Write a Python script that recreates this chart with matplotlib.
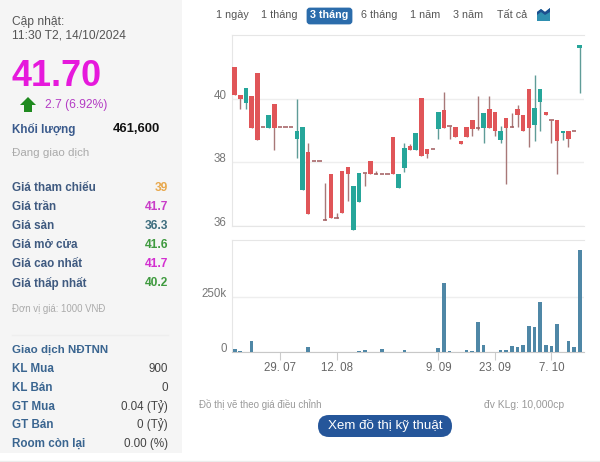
import matplotlib
matplotlib.use("Agg")
import matplotlib.pyplot as plt
from matplotlib.patches import FancyBboxPatch, Polygon, Rectangle

plt.rcParams['font.family'] = ['Liberation Sans', 'DejaVu Sans']

# one entry per trading day
opens = [41.02, 40.14, 39.87, 40.09, 40.83, 39.12, 39.10, 39.83, 39.12, 39.12, 39.12,
         38.74, 37.12, 38.33, 38.04, 38.04, 36.17, 37.64, 36.24, 37.73, 37.84,
         35.86, 36.76, 37.65, 38.04, 37.64, 37.64, 37.64, 38.80, 37.18, 37.83,
         38.53, 38.40, 40.03, 38.41, 38.41, 39.05, 39.65, 39.14, 39.12, 38.66,
         39.12, 39.35, 39.10, 39.10, 39.68, 39.60, 38.72, 39.40, 39.12, 39.70,
         39.50, 40.30, 39.19, 39.90, 39.59, 39.33, 39.35, 38.94, 39.00, 39.00, 41.62]
closes = [40.13, 40.01, 40.34, 39.10, 38.70, 39.12, 39.50, 39.10, 39.12, 39.12, 39.12,
          39.00, 39.12, 36.36, 38.04, 38.04, 36.17, 36.24, 36.24, 36.41, 37.63,
          37.24, 37.66, 37.65, 37.64, 37.64, 37.64, 37.64, 37.64, 37.64, 38.46,
          38.40, 38.92, 38.20, 38.25, 38.41, 39.60, 39.10, 39.14, 38.79, 38.59,
          38.80, 39.05, 39.10, 39.55, 39.10, 38.99, 38.99, 39.10, 39.12, 39.50,
          38.99, 39.10, 39.72, 40.30, 39.50, 39.33, 38.68, 38.99, 38.74, 39.00, 41.70]
highs = [41.02, 40.14, 40.34, 40.09, 40.83, 39.12, 39.50, 39.83, 39.12, 39.12, 39.12,
         40.00, 39.12, 38.62, 38.04, 38.04, 37.34, 37.64, 36.39, 37.73, 37.84,
         37.24, 37.66, 37.65, 38.04, 37.72, 37.64, 37.64, 38.80, 37.64, 38.62,
         38.58, 38.92, 40.03, 38.41, 38.41, 39.60, 40.22, 39.14, 39.12, 38.66,
         39.12, 39.35, 40.10, 39.55, 40.10, 39.60, 39.15, 39.40, 39.55, 39.81,
         39.50, 40.30, 40.77, 40.30, 39.59, 39.33, 39.35, 38.99, 39.00, 39.00, 41.70]
lows = [40.13, 39.70, 39.70, 39.10, 38.70, 39.12, 39.10, 38.40, 39.12, 39.12, 39.12,
        38.13, 37.12, 36.36, 38.04, 38.04, 36.17, 36.24, 36.24, 36.41, 36.78,
        35.86, 36.76, 37.26, 37.64, 37.64, 37.64, 37.64, 37.64, 37.18, 37.68,
        38.40, 38.40, 38.20, 38.14, 38.41, 38.73, 39.10, 38.75, 38.79, 38.59,
        38.80, 38.83, 39.02, 38.60, 39.10, 38.83, 38.62, 37.32, 39.12, 39.13,
        38.99, 38.50, 38.68, 39.00, 39.50, 38.62, 37.63, 38.70, 38.50, 39.00, 40.20]
volumes = [15000, 4500, 0, 52000, 0, 0, 0, 0, 0, 0, 0, 0, 0, 24000, 0, 0, 0, 0, 0, 0, 0,
           0, 6000, 10000, 3000, 0, 16000, 3000, 0, 2000, 10000,
           0, 0, 0, 3000, 0, 20000, 310000, 7000, 0, 0,
           10000, 4000, 135000, 32000, 0, 0, 10000, 10000, 27000, 24000,
           32000, 120000, 112000, 225000, 32000, 28000, 129000, 3000, 50000, 22000, 461600]

price_ticks = [36, 38, 40]
vol_ticks = [0, 250000]
vol_tick_labels = ["0", "250k"]
date_pos = [8, 18, 36, 46, 56]
date_labels = ["29. 07", "12. 08", "9. 09", "23. 09", "7. 10"]

tabs = ["1 ngày", "1 tháng", "3 tháng", "6 tháng", "1 năm", "3 năm", "Tất cả"]
tab_x = [232, 279, 329, 379, 425, 468, 512]
quote_rows = ["Giá tham chiếu", "Giá trần", "Giá sàn", "Giá mở cửa", "Giá cao nhất", "Giá thấp nhất"]
quote_vals = ["39", "41.7", "36.3", "41.6", "41.7", "40.2"]
quote_cols = ["#e8a84c", "#c93cc8", "#3d6d7e", "#3f9a3f", "#d32fd0", "#3f9a3f"]
foreign_rows = ["KL Mua", "KL Bán", "GT Mua", "GT Bán", "Room còn lại"]
foreign_vals = ["900", "0", "0.04 (Tỷ)", "0 (Tỷ)", "0.00 (%)"]

W, H = 600, 462
fig = plt.figure(figsize=(W / 100, H / 100), dpi=100, facecolor="white")


def px_axes(left, top, right, bottom):
    return fig.add_axes([left / W, 1 - bottom / H, (right - left) / W, (bottom - top) / H])


# page furniture, in pixel coordinates
bg = px_axes(0, 0, W, H)
bg.set_xlim(0, W)
bg.set_ylim(H, 0)
bg.axis("off")
bg.add_patch(Rectangle((0, 0), 182, 453, color="#f5f5f5", lw=0))
bg.plot([0, 600], [461, 461], color="#ececec", lw=1)
bg.plot([12, 168], [335, 335], color="#eeeeee", lw=1)


def txt(x, y, s, size, color, ha="left", weight="normal"):
    bg.text(x, y, s, fontsize=size * 0.72, color=color, ha=ha, va="center", fontweight=weight)


txt(12, 22, "Cập nhật:", 12, "#555555")
txt(12, 35, "11:30 T2, 14/10/2024", 12, "#555555")
txt(11, 77, "41.70", 36, "#e619dc", weight="bold")
bg.add_patch(Polygon([[28, 97], [36, 105], [32, 105], [32, 112], [24, 112], [24, 105], [20, 105]],
                     color="#1f8a1f", lw=0))
txt(45, 105, "2.7 (6.92%)", 12, "#b43cc4")
txt(12, 129, "Khối lượng", 11.6, "#3a5a8c", weight="bold")
txt(160, 129, "461,600", 13, "#111111", ha="right", weight="bold")
txt(12, 153, "Đang giao dịch", 11.5, "#aaaaaa")

row_y = [188, 207, 226, 245, 264, 283]
for y, name, val, col in zip(row_y, quote_rows, quote_vals, quote_cols):
    txt(12, y, name, 11.6, "#3f5a80", weight="bold")
    txt(168, y, val, 12, col, ha="right", weight="bold")
txt(12, 309, "Đơn vị giá: 1000 VNĐ", 9.6, "#aaaaaa")

txt(12, 349.5, "Giao dịch NĐTNN", 11.5, "#3a6590", weight="bold")
row_y = [369, 388, 407, 425, 444]
for y, name, val in zip(row_y, foreign_rows, foreign_vals):
    txt(12, y, name, 11.6, "#3a6590", weight="bold")
    txt(168, y, val, 11.6, "#444444", ha="right")

bg.add_patch(FancyBboxPatch((308, 9), 43, 14, boxstyle="round,pad=0,rounding_size=2",
                            color="#2b6cab", lw=2))
for x, s in zip(tab_x, tabs):
    on = s == "3 tháng"
    txt(x, 15.5, s, 10.8, "white" if on else "#555555", ha="center", weight="bold" if on else "normal")
bg.add_patch(Polygon([[537, 21], [537, 12], [541, 9], [545, 12], [550, 8], [550, 21]], color="#2f8fb0", lw=0))
bg.add_patch(Polygon([[537, 12], [541, 9], [545, 12], [550, 8], [550, 12], [545, 15], [541, 12], [537, 15]],
                     color="#1d4f8f", lw=0))

txt(199, 405, "Đồ thị vẽ theo giá điều chỉnh", 9.8, "#999999")
txt(564, 405, "đv KLg: 10,000cp", 10.2, "#999999", ha="right")
bg.add_patch(FancyBboxPatch((318, 415), 134, 22, boxstyle="round,pad=0,rounding_size=11",
                            color="#25569a", lw=0))
txt(385, 426, "Xem đồ thị kỹ thuật", 13.4, "white", ha="center")

# price panel
TEAL, RED = "#26a69a", "#e05558"
ax = px_axes(232.3, 34.7, 584, 225.7)
ax.patch.set_alpha(0)
days = list(range(len(opens)))
for i in days:
    up = closes[i] >= opens[i]
    flat = abs(closes[i] - opens[i]) < 0.01
    ax.vlines(i, lows[i], highs[i], color="#5f9c98" if up and not flat else "#a87878", lw=1, zorder=2, clip_on=False)
    if flat:
        ax.hlines(opens[i], i - 0.38, i + 0.38, color="#a05a5c", lw=1.1, zorder=3)
    else:
        ax.bar(i, abs(closes[i] - opens[i]), bottom=min(opens[i], closes[i]), width=0.8,
               color=TEAL if up else RED, zorder=3, clip_on=False)
ax.set_xlim(-0.42, 61.75)
ax.set_ylim(36, 42.03)
ax.set_yticks(price_ticks)
ax.set_yticklabels([str(p) for p in price_ticks], color="#777777", fontsize=8.3, va="baseline")
ax.tick_params(axis="y", length=0, pad=4)
ax.set_xticks([])
ax.grid(axis="y", color="#eeeeee", lw=1)
ax.set_axisbelow(True)
for name in ["right"]:
    ax.spines[name].set_visible(False)
for name in ["left", "top", "bottom"]:
    ax.spines[name].set_color("#e6e6e6")

# volume panel
vx = px_axes(232.3, 240, 584, 352.3)
vx.patch.set_alpha(0)
vx.bar(days, volumes, width=0.65, color="#4f87a6", zorder=3)
vx.set_xlim(-0.42, 61.75)
vx.set_ylim(0, 505000)
vx.set_yticks(vol_ticks)
vx.set_yticklabels(vol_tick_labels, color="#777777", fontsize=8.3, va="baseline")
vx.tick_params(axis="y", length=0, pad=4)
vx.set_xticks(date_pos)
vx.set_xticklabels(date_labels, color="#666666", fontsize=8.3)
vx.tick_params(axis="x", length=5.8, width=0.8, color="#cccccc", pad=1)
vx.grid(axis="y", color="#eeeeee", lw=1)
vx.set_axisbelow(True)
vx.spines["right"].set_visible(False)
vx.spines["left"].set_color("#e6e6e6")
vx.spines["top"].set_color("#e6e6e6")
vx.spines["bottom"].set_color("#c8c8c8")

fig.savefig("out.png", dpi=100)
